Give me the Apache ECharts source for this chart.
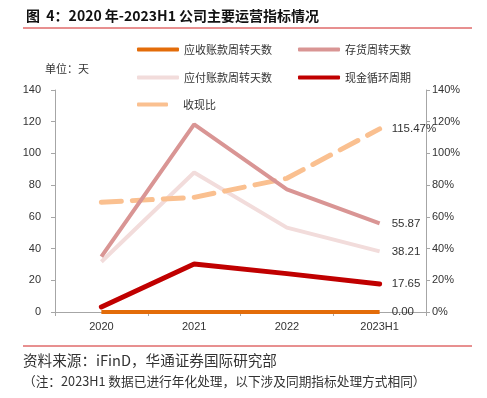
<!DOCTYPE html>
<html>
<head>
<meta charset="utf-8">
<style>
  html, body { margin: 0; padding: 0; background: #fff; }
  #main { width: 487px; height: 398px; }
</style>
<script src="https://cdn.jsdelivr.net/npm/echarts@6/dist/echarts.min.js"></script>
</head>
<body>
<div id="main"></div>
<script>
// 数据
var years = ["2020", "2021", "2022", "2023H1"];
var receivableDays = [0, 0, 0, 0];          // 应收账款周转天数
var inventoryDays = [34.9, 118.3, 77.4, 55.87]; // 存货周转天数
var payableDays = [31.7, 88.0, 53.2, 38.21];    // 应付账款周转天数
var cashCycle = [3.2, 30.3, 24.2, 17.65];       // 现金循环周期
var cashRatio = [69.2, 72.3, 84.3, 115.47];     // 收现比(%)
var leftTicks = [0, 140, 20];
var rightTicks = [0, 140, 20];

var cjk = '"Noto Sans CJK SC", sans-serif';
var latin = '"Liberation Sans", Arial, sans-serif';

var myChart = echarts.init(document.getElementById("main"));

function legendAt(name, left, top, w, pad) {
  return {
    data: [name],
    left: left,
    top: top,
    icon: "roundRect",
    itemWidth: w,
    itemHeight: 4,
    padding: 0,
    selectedMode: false,
    textStyle: { fontFamily: cjk, fontSize: 11, color: "#333", padding: [0, 0, 0, pad || 0] }
  };
}

function endLbl(fmt) {
  return {
    show: true,
    distance: 12,
    fontFamily: latin,
    fontSize: 11.5,
    color: "#333",
    formatter: fmt
  };
}

var option = {
  animation: false,
  title: {
    text: "图  4：2020 年-2023H1 公司主要运营指标情况",
    left: 21,
    top: 4,
    textStyle: { fontFamily: cjk, fontSize: 14, fontWeight: "bold", color: "#111" }
  },
  graphic: [
    { type: "line", shape: { x1: 23, y1: 28, x2: 472, y2: 28 }, style: { stroke: "#D02020", lineWidth: 1 } },
    { type: "line", shape: { x1: 23, y1: 346, x2: 472, y2: 346 }, style: { stroke: "#D02020", lineWidth: 1 } },
    { type: "text", left: 45, top: 63, style: { text: "单位：天", font: "11px " + cjk, fill: "#333" } },
    { type: "text", left: 23, top: 353, style: { text: "资料来源：iFinD，华通证券国际研究部", font: "14.6px " + cjk, fill: "#333" } },
    { type: "text", left: 23, top: 375, style: { text: "（注：2023H1 数据已进行年化处理，以下涉及同期指标处理方式相同）", font: "12.7px " + cjk, fill: "#333" } }
  ],
  legend: [
    legendAt("应收账款周转天数", 137, 44, 42),
    legendAt("存货周转天数", 298, 44, 42),
    legendAt("应付账款周转天数", 137, 72, 42),
    legendAt("现金循环周期", 298, 72, 42),
    legendAt("收现比", 137, 99, 31, 10)
  ],
  grid: { left: 55, right: 61, top: 90, bottom: 86 },
  xAxis: {
    type: "category",
    data: years,
    boundaryGap: true,
    axisLine: { lineStyle: { color: "#A6A6A6" } },
    axisTick: { show: true, length: 4, lineStyle: { color: "#A6A6A6" } },
    axisLabel: { fontFamily: latin, fontSize: 11, color: "#333", margin: 9 }
  },
  yAxis: [
    {
      type: "value",
      min: leftTicks[0],
      max: leftTicks[1],
      interval: leftTicks[2],
      splitLine: { show: false },
      axisLine: { show: true, lineStyle: { color: "#A6A6A6" } },
      axisTick: { show: true, length: 4, lineStyle: { color: "#A6A6A6" } },
      axisLabel: { fontFamily: latin, fontSize: 11, color: "#333", margin: 14 }
    },
    {
      type: "value",
      min: rightTicks[0],
      max: rightTicks[1],
      interval: rightTicks[2],
      splitLine: { show: false },
      axisLine: { show: true, lineStyle: { color: "#A6A6A6" } },
      axisTick: { show: true, length: 4, lineStyle: { color: "#A6A6A6" } },
      axisLabel: { fontFamily: latin, fontSize: 11, color: "#333", margin: 6, formatter: "{value}%" }
    }
  ],
  series: [
    {
      name: "应付账款周转天数",
      type: "line",
      data: payableDays,
      symbol: "none",
      z: 2,
      itemStyle: { color: "#F2DCDB" },
      lineStyle: { color: "#F2DCDB", width: 4 },
      endLabel: endLbl(function (p) { return p.value.toFixed(2); })
    },
    {
      name: "收现比",
      type: "line",
      yAxisIndex: 1,
      data: cashRatio,
      symbol: "none",
      z: 3,
      itemStyle: { color: "#FAC090" },
      lineStyle: { color: "#FAC090", width: 5, type: [20, 11], cap: "round" },
      endLabel: endLbl(function (p) { return p.value.toFixed(2) + "%"; })
    },
    {
      name: "存货周转天数",
      type: "line",
      data: inventoryDays,
      symbol: "none",
      z: 4,
      itemStyle: { color: "#D99594" },
      lineStyle: { color: "#D99594", width: 4 },
      endLabel: endLbl(function (p) { return p.value.toFixed(2); })
    },
    {
      name: "现金循环周期",
      type: "line",
      data: cashCycle,
      symbol: "none",
      z: 5,
      itemStyle: { color: "#C00000" },
      lineStyle: { color: "#C00000", width: 5, cap: "round" },
      endLabel: endLbl(function (p) { return p.value.toFixed(2); })
    },
    {
      name: "应收账款周转天数",
      type: "line",
      data: receivableDays,
      symbol: "none",
      z: 6,
      itemStyle: { color: "#E36C09" },
      lineStyle: { color: "#E36C09", width: 4 },
      endLabel: endLbl(function (p) { return p.value.toFixed(2); })
    }
  ]
};

myChart.setOption(option);
</script>
</body>
</html>
